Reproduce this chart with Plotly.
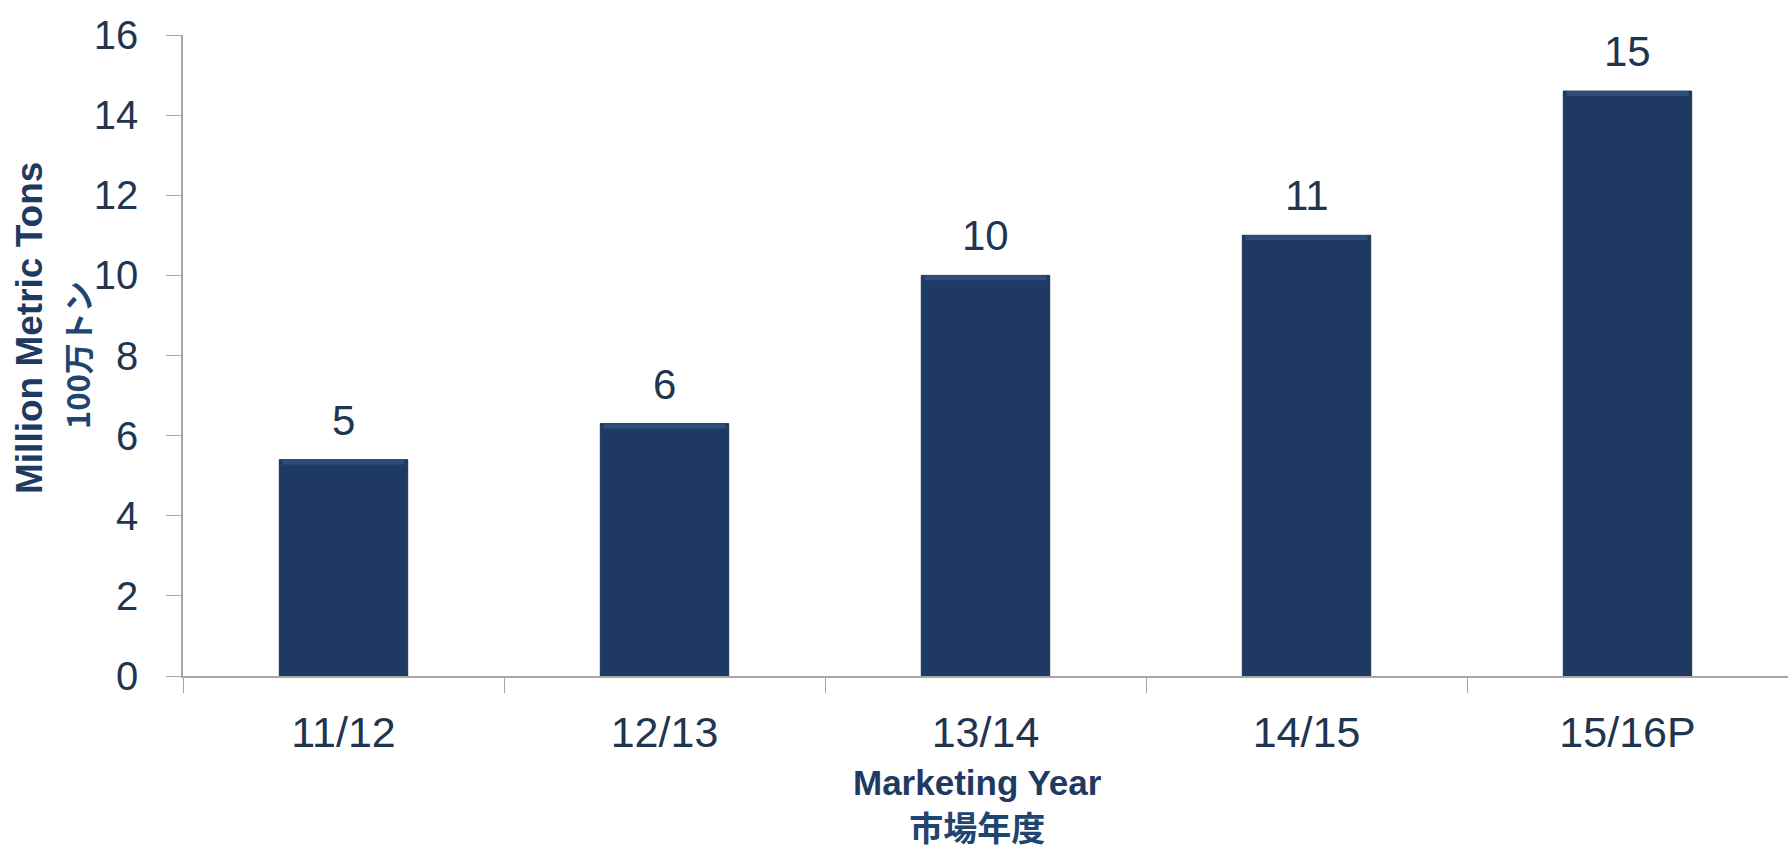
import plotly.graph_objects as go

categories = ["11/12", "12/13", "13/14", "14/15", "15/16P"]
values = [5.4, 6.3, 10.0, 11.0, 14.6]
value_labels = ["5", "6", "10", "11", "15"]
y_ticks = [0, 2, 4, 6, 8, 10, 12, 14, 16]

BAR = "#1E3A62"
TXT = "#1F3550"
TITLE = "#1F4570"
AXIS = "#A6A6A6"
FONT = "Liberation Sans, Arial, sans-serif"

fig = go.Figure()
fig.add_trace(go.Bar(
    x=categories, y=values,
    marker=dict(color=BAR, line=dict(color="#1A3357", width=1)),
    width=0.4, hoverinfo="skip",
))
# subtle bevel highlight along each bar top
hl = 0.12
fig.add_trace(go.Bar(
    x=categories, y=[hl] * len(values), base=[v - hl for v in values],
    marker=dict(color="#3A5F8F", opacity=0.55, line=dict(width=0)),
    width=0.38, hoverinfo="skip",
))

annotations = []
for c, v, t in zip(categories, values, value_labels):
    annotations.append(dict(
        x=c, y=v, xref="x", yref="y", text=t, showarrow=False,
        yanchor="bottom", yshift=14,
        font=dict(family=FONT, size=42, color=TXT),
    ))

xtitle = ("<b>Marketing Year</b><br>"
          "<span style='font-family:Noto Sans CJK JP;font-size:34px;color:%s'><b>市場年度</b></span>" % TITLE)

annotations += [
    dict(x=30, y=328, xref="paper", yref="paper", text="<b>Million Metric Tons</b>",
         showarrow=False, textangle=-90, xanchor="center", yanchor="middle",
         font=dict(family=FONT, size=37, color="#1F3A60")),
    dict(x=76, y=355, xref="paper", yref="paper", text="<b>100万トン</b>",
         showarrow=False, textangle=-90, xanchor="center", yanchor="middle",
         font=dict(family="Noto Sans CJK JP", size=31, color=TITLE)),
    dict(x=977, y=853, xref="paper", yref="paper", text=xtitle,
         showarrow=False, xanchor="center", yanchor="bottom", align="center",
         font=dict(family=FONT, size=35, color="#1F3A60")),
]

W, H = 1788, 854
L, R, T, B = 183, 0, 35, 178
pw, ph = W - L - R, H - T - B
for a in annotations:
    if a["xref"] == "paper":
        a["x"] = (a["x"] - L) / pw
        a["y"] = (H - B - a["y"]) / ph

fig.update_layout(
    width=W, height=H,
    margin=dict(l=L, r=R, t=T, b=B, autoexpand=False),
    paper_bgcolor="white", plot_bgcolor="white",
    showlegend=False, barmode="overlay",
    annotations=annotations,
    xaxis=dict(
        automargin=False,
        showline=True, linecolor=AXIS, linewidth=1.5,
        ticks="outside", tickson="boundaries", ticklen=15, tickcolor=AXIS,
        tickfont=dict(family=FONT, size=43, color=TXT),
        ticklabelstandoff=18,
        showgrid=False, zeroline=False,
    ),
    yaxis=dict(
        automargin=False,
        range=[0, 16], tickvals=y_ticks,
        showline=True, linecolor=AXIS, linewidth=1.5,
        ticks="outside", ticklen=15, tickcolor=AXIS,
        tickfont=dict(family=FONT, size=40, color=TXT),
        ticklabelstandoff=20,
        showgrid=False, zeroline=False,
    ),
)

fig.write_html(
    "out.html",
    config={"displayModeBar": False},
    post_script="document.body.style.margin='0';document.body.style.overflow='hidden';",
)
